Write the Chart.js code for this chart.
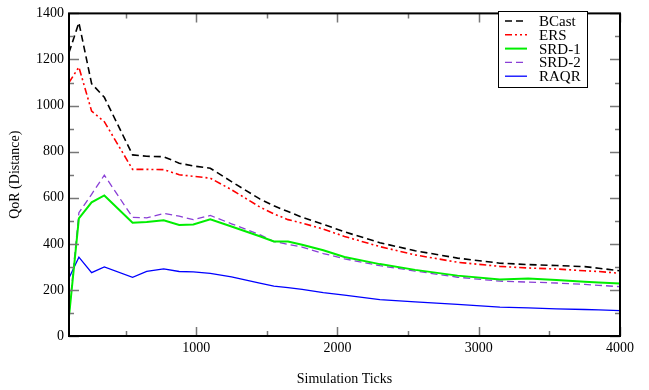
<!DOCTYPE html>
<html>
<head>
<meta charset="utf-8">
<script src="https://cdn.jsdelivr.net/npm/chart.js@4.4.1/dist/chart.umd.min.js"></script>
<style>
  html, body { margin: 0; padding: 0; background: #fff; }
  #wrap { width: 649px; height: 390px; }
</style>
</head>
<body>
<div id="wrap"><canvas id="myChart" width="649" height="390"></canvas></div>
<script>
// simulation ticks where the runs were sampled
const ticks = [100, 170, 260, 350, 550, 650, 770, 880, 980, 1100, 1250, 1450, 1550, 1650, 1750, 1900, 2050, 2300, 2550, 2850, 3150, 3350, 3550, 3750, 3850, 4000];

const bcast = [1230, 1360, 1095, 1036, 786, 780, 778, 750, 738, 728, 670, 595, 565, 540, 515, 485, 452, 405, 370, 338, 316, 310, 306, 301, 294, 283];
const ers   = [1100, 1167, 976, 930, 723, 723, 722, 700, 693, 685, 635, 560, 530, 505, 490, 464, 432, 388, 352, 320, 302, 295, 291, 283, 280, 272];
const srd1  = [85, 510, 580, 610, 492, 495, 502, 482, 484, 506, 475, 433, 410, 410, 396, 372, 343, 312, 287, 262, 245, 249, 243, 235, 232, 228];
const srd2  = [96, 535, 615, 698, 515, 513, 532, 520, 505, 523, 487, 440, 410, 398, 386, 358, 335, 305, 282, 255, 238, 234, 230, 224, 220, 214];
const raqr  = [252, 342, 275, 300, 255, 280, 291, 280, 278, 272, 257, 229, 216, 210, 202, 188, 177, 158, 148, 137, 125, 122, 118, 115, 113, 110];

const seriesNames = ['BCast', 'ERS', 'SRD-1', 'SRD-2', 'RAQR'];

const xMajor = [1000, 2000, 3000, 4000];
const xMinor = [500, 1500, 2500, 3500];
const yMajor = [0, 200, 400, 600, 800, 1000, 1200, 1400];
const yMinor = [100, 300, 500, 700, 900, 1100, 1300];

const serif = '"Liberation Serif", "DejaVu Serif", serif';

function pts(vals) {
  return vals.map((v, i) => ({ x: ticks[i], y: v }));
}

// box frame + inward ticks on every side, and the boxed legend
const framePlugin = {
  id: 'frame',
  afterDatasetsDraw(chart) {
    const c = chart.ctx;
    const a = chart.chartArea;
    const xs = chart.scales.x, ys = chart.scales.y;
    c.save();
    c.strokeStyle = '#777';
    c.lineWidth = 1.5;
    c.beginPath();
    xMajor.concat(xMinor).forEach(v => {
      const len = xMajor.includes(v) ? 9 : 5;
      const px = Math.round(xs.getPixelForValue(v)) + 0.5;
      c.moveTo(px, a.bottom); c.lineTo(px, a.bottom - len);
      c.moveTo(px, a.top); c.lineTo(px, a.top + len);
    });
    yMajor.concat(yMinor).forEach(v => {
      const len = yMajor.includes(v) ? 10 : 5;
      const py = Math.round(ys.getPixelForValue(v)) + 0.5;
      c.moveTo(a.left, py); c.lineTo(a.left + len, py);
      c.moveTo(a.right, py); c.lineTo(a.right - len, py);
    });
    c.stroke();

    c.strokeStyle = '#000';
    c.lineWidth = 2;
    c.strokeRect(a.left, a.top, a.right - a.left, a.bottom - a.top);

    // legend
    const lx = 498, ly = 11, lw = 89, lh = 76;
    c.fillStyle = '#fff';
    c.fillRect(lx, ly, lw, lh);
    c.lineWidth = 1;
    c.strokeStyle = '#000';
    c.strokeRect(lx + 0.5, ly + 0.5, lw, lh);
    c.font = '15px ' + serif;
    c.textBaseline = 'middle';
    chart.data.datasets.forEach((ds, i) => {
      const y = ly + 10 + i * 13.8;
      c.beginPath();
      c.strokeStyle = ds.borderColor;
      c.lineWidth = ds.borderWidth;
      c.setLineDash(ds.borderDash || []);
      c.moveTo(lx + 7, y); c.lineTo(lx + 29, y);
      c.stroke();
      c.setLineDash([]);
      c.fillStyle = '#000';
      c.fillText(ds.label, lx + 41, y + 1);
    });
    c.restore();
  }
};

const ctx = document.getElementById('myChart');

new Chart(ctx, {
  type: 'line',
  data: {
    datasets: [
      { label: seriesNames[0], data: pts(bcast), borderColor: '#000000', borderWidth: 1.6, borderDash: [7, 4] },
      { label: seriesNames[1], data: pts(ers), borderColor: '#ff0000', borderWidth: 1.6, borderDash: [7, 3, 2, 3, 2, 3] },
      { label: seriesNames[2], data: pts(srd1), borderColor: '#00ee00', borderWidth: 2 },
      { label: seriesNames[3], data: pts(srd2), borderColor: '#8a3fd6', borderWidth: 1.3, borderDash: [7, 4] },
      { label: seriesNames[4], data: pts(raqr), borderColor: '#0000ff', borderWidth: 1.3 }
    ]
  },
  options: {
    responsive: false,
    animation: false,
    layout: { padding: { top: 6, right: 29, left: 0, bottom: 0 } },
    elements: { point: { radius: 0 }, line: { tension: 0, fill: false } },
    plugins: { legend: { display: false }, tooltip: { enabled: false } },
    scales: {
      x: {
        type: 'linear',
        min: 100,
        max: 4000,
        grid: { display: false, drawTicks: false },
        border: { display: false },
        afterBuildTicks: s => { s.ticks = xMajor.map(v => ({ value: v })); },
        ticks: {
          autoSkip: false,
          maxRotation: 0,
          padding: 4,
          color: '#000',
          font: { family: serif, size: 14 },
          callback: v => String(v)
        },
        title: {
          display: true,
          text: 'Simulation Ticks',
          color: '#000',
          font: { family: serif, size: 14 },
          padding: { top: 18, bottom: 2 }
        },
        afterFit: s => { s.height = 54; }
      },
      y: {
        min: 0,
        max: 1400,
        grid: { display: false, drawTicks: false },
        border: { display: false },
        afterBuildTicks: s => { s.ticks = yMajor.map(v => ({ value: v })); },
        ticks: {
          padding: 5,
          color: '#000',
          font: { family: serif, size: 14 },
          callback: v => String(v)
        },
        title: {
          display: true,
          text: 'QoR (Distance)',
          color: '#000',
          font: { family: serif, size: 14 },
          padding: { top: 7, bottom: 6 }
        },
        afterFit: s => { s.width = 69; }
      }
    }
  },
  plugins: [framePlugin]
});
</script>
</body>
</html>
